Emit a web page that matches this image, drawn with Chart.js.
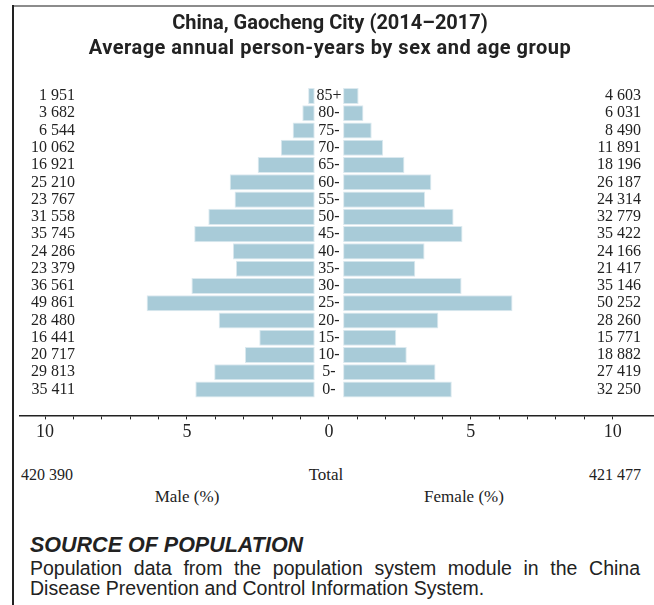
<!DOCTYPE html>
<html><head><meta charset="utf-8">
<script src="https://cdn.jsdelivr.net/npm/chart.js@4.4.1/dist/chart.umd.min.js"></script>
<style>
html,body{margin:0;padding:0;background:#fff;}
body{width:654px;height:605px;position:relative;overflow:hidden;}
#frameTop{position:absolute;left:13px;top:5px;width:641px;height:0;border-top:2px solid #8c8c8c;}
#frameLeft{position:absolute;left:12px;top:5px;width:0;height:600px;border-left:2px solid #222;}
#chart{position:absolute;left:0;top:0;}
.t{position:absolute;white-space:nowrap;color:#222;}
#title{left:6px;width:648px;top:9.5px;text-align:center;font-family:Roboto;font-weight:bold;font-size:20px;line-height:25px;}
#title .l2{letter-spacing:0.5px;}
.serif{font-family:"Liberation Serif";font-size:17px;line-height:18px;}
.num{font-size:16px;}
#srcHead{left:30px;top:533px;font-family:"Liberation Sans";font-weight:bold;font-style:italic;font-size:21.5px;line-height:24px;}
#srcText{position:absolute;left:30px;width:610px;top:558px;font-family:"Liberation Sans";font-size:19.5px;line-height:20px;text-align:justify;color:#222;}
</style>
</head>
<body>
<div id="frameTop"></div>
<div id="frameLeft"></div>
<canvas id="chart" width="654" height="450"></canvas>
<div id="title" class="t">China, Gaocheng City (2014–2017)<br><span class="l2">Average annual person-years by sex and age group</span></div>
<div id="maleTot" class="t serif num" style="left:21px;top:466px;"></div>
<div class="t serif" style="left:276px;width:100px;text-align:center;top:466px;">Total</div>
<div id="femaleTot" class="t serif num" style="right:13px;top:466px;"></div>
<div class="t serif" style="left:137px;width:100px;text-align:center;top:488px;">Male (%)</div>
<div class="t serif" style="left:414px;width:100px;text-align:center;top:488px;">Female (%)</div>
<div id="srcHead" class="t">SOURCE OF POPULATION</div>
<div id="srcText">Population data from the population system module in the China Disease Prevention and Control Information System.</div>
<script>
const ages = ['85+','80-','75-','70-','65-','60-','55-','50-','45-','40-','35-','30-','25-','20-','15-','10-','5-','0-'];
const maleCounts = [1951,3682,6544,10062,16921,25210,23767,31558,35745,24286,23379,36561,49861,28480,16441,20717,29813,35411];
const femaleCounts = [4603,6031,8490,11891,18196,26187,24314,32779,35422,24166,21417,35146,50252,28260,15771,18882,27419,32250];
const maleTotal = 420390;
const femaleTotal = 421477;
const axisLimit = 10;
const labelEvery = 5;

function fmt(n){ return String(n).replace(/\B(?=(\d{3})+(?!\d))/g,' '); }
document.getElementById('maleTot').textContent = fmt(maleTotal);
document.getElementById('femaleTot').textContent = fmt(femaleTotal);

const grand = maleTotal + femaleTotal;
const gap = 0.5;
const rowLabels = ages.concat(['']);
const malePct = maleCounts.map(c => c / grand * 100);
const femalePct = femaleCounts.map(c => c / grand * 100);

const barColor = '#a8cbd8';
const edgeColor = '#dbe9ef';

const ageLabelPlugin = {
  id: 'ageLabels',
  afterDatasetsDraw(chart){
    const ctx = chart.ctx, xs = chart.scales.x, ys = chart.scales.y;
    ctx.save();
    ctx.fillStyle = '#222';
    ctx.font = '16px "Liberation Serif"';
    ctx.textAlign = 'center';
    ctx.textBaseline = 'middle';
    ages.forEach((a, i) => ctx.fillText(a, xs.getPixelForValue(0), ys.getPixelForValue(i)));
    ctx.restore();
  }
};

new Chart(document.getElementById('chart'), {
  type: 'bar',
  data: {
    labels: rowLabels,
    datasets: [
      { label: 'Male', data: malePct.map(p => [-gap, -gap - p]), backgroundColor: barColor, borderColor: edgeColor, borderWidth: 1, borderSkipped: false, grouped: false, barPercentage: 0.93, categoryPercentage: 1 },
      { label: 'Female', data: femalePct.map(p => [gap, gap + p]), backgroundColor: barColor, borderColor: edgeColor, borderWidth: 1, borderSkipped: false, grouped: false, barPercentage: 0.93, categoryPercentage: 1 }
    ]
  },
  options: {
    responsive: false, animation: false, devicePixelRatio: 1,
    indexAxis: 'y',
    layout: { padding: { left: 20, right: 0, top: 87.4, bottom: 0 } },
    plugins: { legend: { display: false }, title: { display: false }, tooltip: { enabled: false } },
    scales: {
      x: {
        type: 'linear', min: -10.884, max: 11.455,
        afterBuildTicks: s => { s.ticks = s.ticks.filter(t => Math.abs(t.value) <= axisLimit); },
        afterFit: s => { s.height = 34.6; },
        grid: { display: true, drawOnChartArea: false, drawTicks: true, tickLength: 4, color: '#222', lineWidth: 1 },
        border: { display: true, color: '#222', width: 1.5 },
        ticks: { stepSize: 1, includeBounds: false, autoSkip: false, maxRotation: 0, padding: 2, color: '#222',
          font: { family: 'Liberation Serif', size: 18 },
          callback: v => (v % labelEvery === 0 ? String(Math.abs(v)) : '') }
      },
      y: {
        type: 'category', position: 'left', offset: true,
        afterFit: s => { s.width = 0; },
        grid: { display: false, drawTicks: false }, border: { display: false },
        ticks: { mirror: true, crossAlign: 'far', padding: 11, autoSkip: false, color: '#222',
          font: { family: 'Liberation Serif', size: 16 },
          callback: (v, i) => (i < maleCounts.length ? fmt(maleCounts[i]) : '') }
      },
      y2: {
        type: 'category', position: 'right', offset: true, labels: rowLabels,
        afterFit: s => { s.width = 0; },
        grid: { display: false, drawTicks: false }, border: { display: false },
        ticks: { mirror: true, crossAlign: 'near', padding: -13, autoSkip: false, color: '#222',
          font: { family: 'Liberation Serif', size: 16 },
          callback: (v, i) => (i < femaleCounts.length ? fmt(femaleCounts[i]) : '') }
      }
    }
  },
  plugins: [ageLabelPlugin]
});
</script>
</body></html>
